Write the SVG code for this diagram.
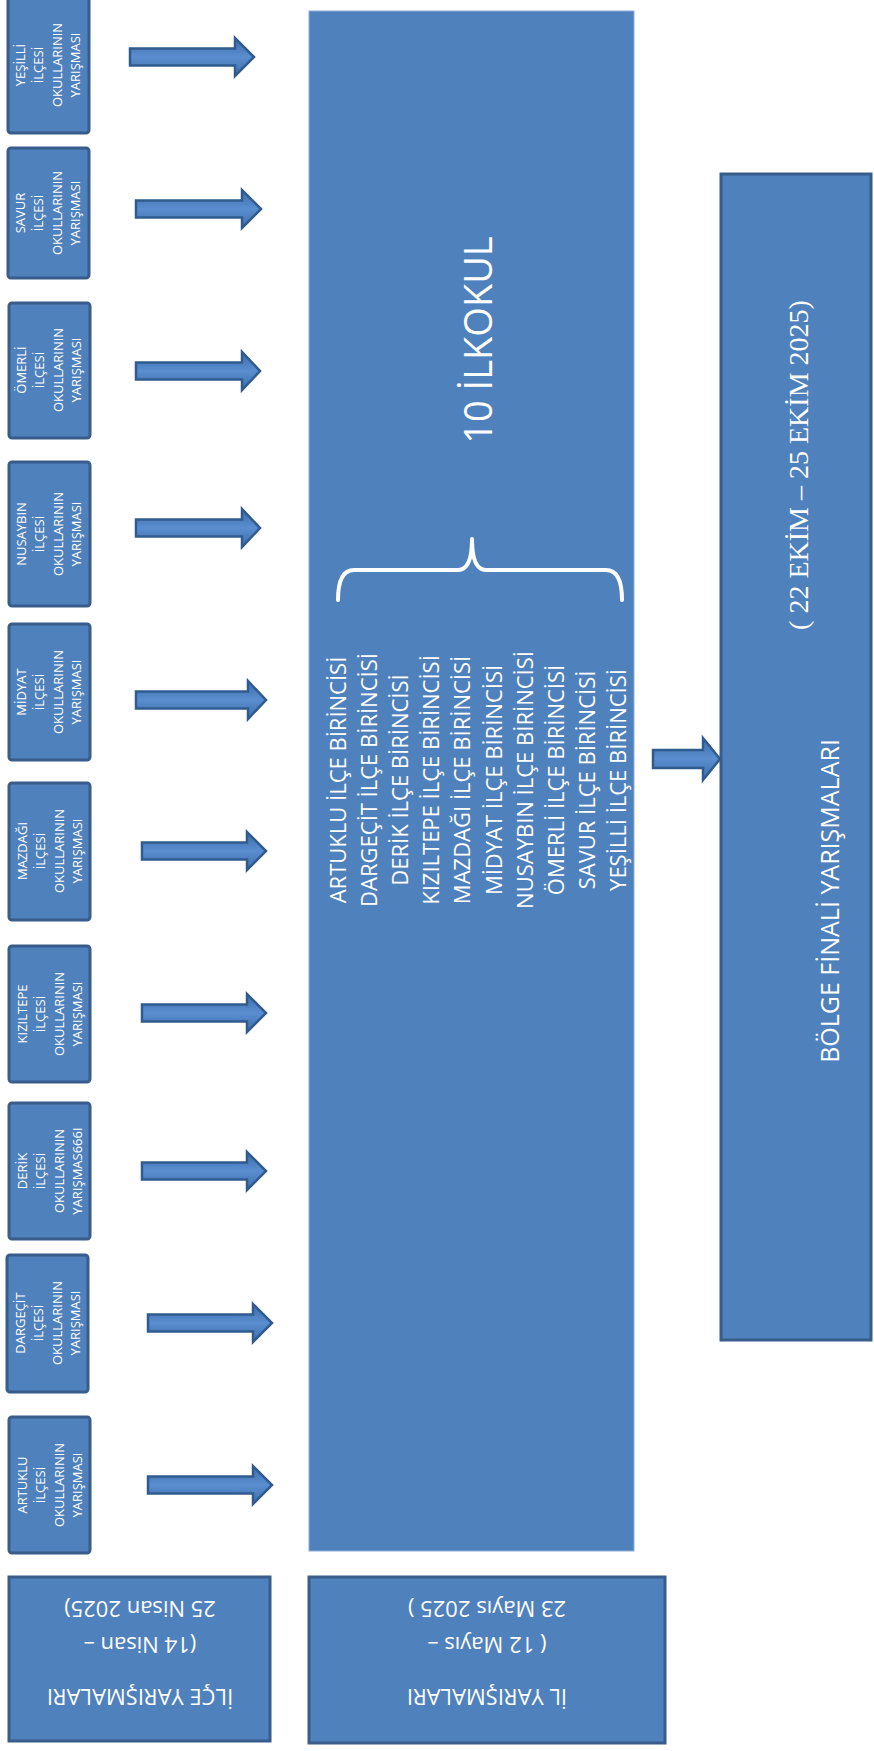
<svg xmlns="http://www.w3.org/2000/svg" width="874" height="1751" viewBox="0 0 874 1751">
<style>
.box{fill:#4F81BD;stroke:#385D8A;stroke-width:3}
.big{fill:#4F81BD;stroke:#8DB0DC;stroke-width:1}
.bt{font-family:"Open Sans","Noto Sans",sans-serif;font-size:13px;fill:#fff;text-anchor:middle}
.lt{font-family:"Open Sans","Noto Sans",sans-serif;font-size:22px;fill:#fff;text-anchor:middle}
.arr{fill:url(#ag);stroke:#2F5B8F;stroke-width:2.5;stroke-linejoin:miter}
</style>
<defs>
<linearGradient id="ag" x1="0" y1="0" x2="0" y2="1">
<stop offset="0" stop-color="#3E6CA8"/>
<stop offset="0.5" stop-color="#5A8ED0"/>
<stop offset="1" stop-color="#3E6CA8"/>
</linearGradient>
</defs>
<rect x="0" y="0" width="874" height="1751" fill="#fff"/>

<g id="n-yesilli"><rect class="box" x="8" y="-3" width="81" height="136" rx="3"/>
<g transform="translate(48 65) rotate(-90)"><text class="bt" y="-23">YEŞİLLİ</text><text class="bt" y="-5">İLÇESİ</text><text class="bt" y="14">OKULLARININ</text><text class="bt" y="32">YARIŞMASI</text></g></g>

<g id="n-savur"><rect class="box" x="8" y="148" width="81" height="130" rx="3"/>
<g transform="translate(48 213) rotate(-90)"><text class="bt" y="-23">SAVUR</text><text class="bt" y="-5">İLÇESİ</text><text class="bt" y="14">OKULLARININ</text><text class="bt" y="32">YARIŞMASI</text></g></g>

<g id="n-omerli"><rect class="box" x="9" y="303" width="81" height="135" rx="3"/>
<g transform="translate(49 370) rotate(-90)"><text class="bt" y="-23">ÖMERLİ</text><text class="bt" y="-5">İLÇESİ</text><text class="bt" y="14">OKULLARININ</text><text class="bt" y="32">YARIŞMASI</text></g></g>

<g id="n-nusaybin"><rect class="box" x="9" y="462" width="81" height="144" rx="3"/>
<g transform="translate(49 534) rotate(-90)"><text class="bt" y="-23">NUSAYBIN</text><text class="bt" y="-5">İLÇESİ</text><text class="bt" y="14">OKULLARININ</text><text class="bt" y="32">YARIŞMASI</text></g></g>

<g id="n-midyat"><rect class="box" x="9" y="624" width="81" height="136" rx="3"/>
<g transform="translate(49 692) rotate(-90)"><text class="bt" y="-23">MİDYAT</text><text class="bt" y="-5">İLÇESİ</text><text class="bt" y="14">OKULLARININ</text><text class="bt" y="32">YARIŞMASI</text></g></g>

<g id="n-mazdagi"><rect class="box" x="9" y="783" width="81" height="137" rx="3"/>
<g transform="translate(49 851) rotate(-90)"><text class="bt" y="-22">MAZDAĞI</text><text class="bt" y="-4">İLÇESİ</text><text class="bt" y="15">OKULLARININ</text><text class="bt" y="33">YARIŞMASI</text></g></g>

<g id="n-kiziltepe"><rect class="box" x="9" y="946" width="81" height="136" rx="3"/>
<g transform="translate(49 1014) rotate(-90)"><text class="bt" y="-22">KIZILTEPE</text><text class="bt" y="-4">İLÇESİ</text><text class="bt" y="15">OKULLARININ</text><text class="bt" y="33">YARIŞMASI</text></g></g>

<g id="n-derik"><rect class="box" x="9" y="1103" width="81" height="136" rx="3"/>
<g transform="translate(49 1171) rotate(-90)"><text class="bt" y="-22">DERİK</text><text class="bt" y="-4">İLÇESİ</text><text class="bt" y="15">OKULLARININ</text><text class="bt" y="33">YARIŞMAS666I</text></g></g>

<g id="n-dargecit"><rect class="box" x="7" y="1255" width="81" height="137" rx="3"/>
<g transform="translate(47 1323) rotate(-90)"><text class="bt" y="-22">DARGEÇİT</text><text class="bt" y="-4">İLÇESİ</text><text class="bt" y="15">OKULLARININ</text><text class="bt" y="33">YARIŞMASI</text></g></g>

<g id="n-artuklu"><rect class="box" x="9" y="1417" width="81" height="136" rx="3"/>
<g transform="translate(49 1485) rotate(-90)"><text class="bt" y="-22">ARTUKLU</text><text class="bt" y="-4">İLÇESİ</text><text class="bt" y="15">OKULLARININ</text><text class="bt" y="33">YARIŞMASI</text></g></g>

<g id="n-il-birincileri">
<rect class="big" x="309" y="11" width="325" height="1540"/>
<g transform="translate(0 340) rotate(-90)"><text y="492" text-anchor="middle" font-family="'Open Sans','Noto Sans',sans-serif" font-size="38" fill="#fff">10 İLKOKUL</text></g>
<path d="M338 600 Q338 570 354 570 L458 570 Q472 570 472 539 Q472 570 486 570 L606 570 Q622 570 622 600" fill="none" stroke="#fff" stroke-width="4" stroke-linejoin="round" stroke-linecap="round"/>
<g transform="translate(0 780) rotate(-90)" xml:space="preserve">
<text class="lt" y="346">ARTUKLU  İLÇE BİRİNCİSİ</text>
<text class="lt" y="377">DARGEÇİT  İLÇE BİRİNCİSİ</text>
<text class="lt" y="408">DERİK İLÇE BİRİNCİSİ</text>
<text class="lt" y="439">KIZILTEPE İLÇE BİRİNCİSİ</text>
<text class="lt" y="470">MAZDAĞI  İLÇE BİRİNCİSİ</text>
<text class="lt" y="502">MİDYAT  İLÇE BİRİNCİSİ</text>
<text class="lt" y="533">NUSAYBIN İLÇE BİRİNCİSİ</text>
<text class="lt" y="564">ÖMERLİ İLÇE BİRİNCİSİ</text>
<text class="lt" y="595">SAVUR İLÇE BİRİNCİSİ</text>
<text class="lt" y="626">YEŞİLLİ İLÇE BİRİNCİSİ</text>
</g>
</g>

<g id="n-bolge">
<rect class="box" x="721" y="174" width="150" height="1166"/>
<g transform="translate(0 901) rotate(-90)"><text y="839" text-anchor="middle" font-family="'Open Sans','Noto Sans',sans-serif" font-size="25" fill="#fff">BÖLGE FİNALİ YARIŞMALARI</text></g>
<g transform="translate(0 465) rotate(-90)"><text y="808" text-anchor="middle" font-family="'Liberation Serif',serif" font-size="28" fill="#fff">( 22 EKİM – 25 EKİM 2025)</text></g>
</g>

<g id="n-ilce-tarih">
<rect class="box" x="9" y="1577" width="261" height="164"/>
<g transform="rotate(180 140 1659)"><text class="lt" x="140" y="1629">İLÇE YARIŞMALARI</text><text class="lt" x="140" y="1681">(14 Nisan –</text><text class="lt" x="140" y="1717">25 Nisan 2025)</text></g>
</g>

<g id="n-il-tarih">
<rect class="box" x="309" y="1577" width="356" height="166"/>
<g transform="rotate(180 487 1660)"><text class="lt" x="487" y="1631">İL YARIŞMALARI</text><text class="lt" x="487" y="1683">( 12 Mayıs –</text><text class="lt" x="487" y="1719">23 Mayıs 2025 )</text></g>
</g>

<g id="connectors">
<path class="arr" d="M130 48.5 L235 48.5 L235 38 L254 57 L235 76 L235 65.5 L130 65.5 Z"/>
<path class="arr" d="M136 200.5 L242 200.5 L242 190 L261 209 L242 228 L242 217.5 L136 217.5 Z"/>
<path class="arr" d="M136 362.5 L242 362.5 L242 352 L260 371 L242 390 L242 379.5 L136 379.5 Z"/>
<path class="arr" d="M136 519.5 L242 519.5 L242 509 L260 528 L242 547 L242 536.5 L136 536.5 Z"/>
<path class="arr" d="M136 691.5 L248 691.5 L248 681 L266 700 L248 719 L248 708.5 L136 708.5 Z"/>
<path class="arr" d="M142 842.5 L247 842.5 L247 832 L266 851 L247 870 L247 859.5 L142 859.5 Z"/>
<path class="arr" d="M142 1004.5 L247 1004.5 L247 994 L266 1013 L247 1032 L247 1021.5 L142 1021.5 Z"/>
<path class="arr" d="M142 1162.5 L247 1162.5 L247 1152 L266 1171 L247 1190 L247 1179.5 L142 1179.5 Z"/>
<path class="arr" d="M148 1314.5 L253 1314.5 L253 1304 L272 1323 L253 1342 L253 1331.5 L148 1331.5 Z"/>
<path class="arr" d="M148 1476.5 L253 1476.5 L253 1466 L272 1485 L253 1504 L253 1493.5 L148 1493.5 Z"/>
<path class="arr" d="M653 750 L703 750 L703 738 L720 759 L703 780 L703 768 L653 768 Z"/>
</g>
</svg>
